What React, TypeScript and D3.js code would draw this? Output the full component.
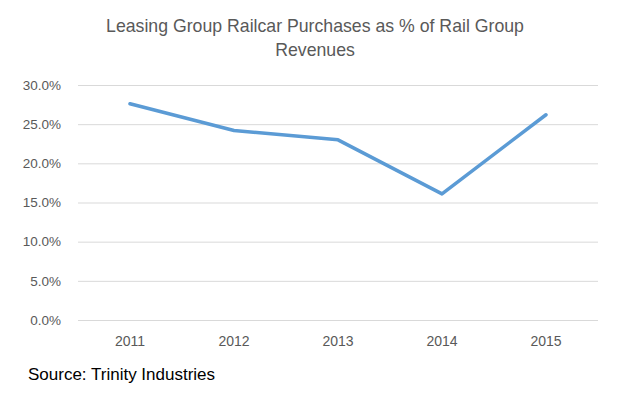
import React, { useEffect, useRef } from 'react';
import * as d3 from 'd3';

const years = ['2011', '2012', '2013', '2014', '2015'];
const purchasePct = [27.6, 24.2, 23.0, 16.1, 26.2];
const yTicks = [0, 5, 10, 15, 20, 25, 30];
const titleLines = ['Leasing Group Railcar Purchases as % of Rail Group', 'Revenues'];
const sourceText = 'Source: Trinity Industries';

const App = () => {
    const ref = useRef<SVGSVGElement>(null);

    useEffect(() => {
        const width = 637;
        const height = 395;
        const left = 78, right = 598, top = 85, bottom = 320;
        const font = '"Liberation Sans", Arial, sans-serif';

        const svg = d3.select(ref.current);
        svg.selectAll('*').remove();
        svg.attr('width', width).attr('height', height);

        svg.append('rect')
            .attr('width', width)
            .attr('height', height)
            .attr('fill', '#fff');

        // title
        svg.append('g')
            .selectAll('text')
            .data(titleLines)
            .enter()
            .append('text')
            .attr('x', 315)
            .attr('y', (d, i) => 32 + i * 23.5)
            .attr('text-anchor', 'middle')
            .attr('font-family', font)
            .attr('font-size', 17.7)
            .attr('fill', '#595959')
            .text(d => d);

        let x = d3.scaleBand()
            .domain(years)
            .range([left, right]);
        let y = d3.scaleLinear()
            .domain([0, 30])
            .range([bottom, top]);

        // gridlines + y labels
        let yAxis = d3.axisLeft(y)
            .tickValues(yTicks)
            .tickSize(-(right - left))
            .tickPadding(17)
            .tickFormat(d => (d as number).toFixed(1) + '%');
        let gy = svg.append('g')
            .attr('transform', `translate(${left},0)`)
            .call(yAxis);
        gy.select('.domain').remove();
        gy.selectAll('.tick line')
            .attr('stroke', '#d9d9d9')
            .attr('stroke-width', 1);
        gy.selectAll('.tick text')
            .attr('font-family', font)
            .attr('font-size', 13.5)
            .attr('fill', '#595959');

        // x labels
        let xAxis = d3.axisBottom(x).tickSize(0).tickPadding(16);
        let gx = svg.append('g')
            .attr('transform', `translate(0,${bottom})`)
            .call(xAxis);
        gx.select('.domain').remove();
        gx.selectAll('.tick text')
            .attr('font-family', font)
            .attr('font-size', 14)
            .attr('fill', '#595959');

        // line
        let line = d3.line<number>()
            .x((d, i) => (x(years[i]) as number) + x.bandwidth() / 2)
            .y(d => y(d));
        svg.append('path')
            .datum(purchasePct)
            .attr('d', line)
            .attr('fill', 'none')
            .attr('stroke', '#5b9bd5')
            .attr('stroke-width', 3.5)
            .attr('stroke-linejoin', 'round')
            .attr('stroke-linecap', 'round');

        svg.append('text')
            .attr('x', 28)
            .attr('y', 380)
            .attr('font-family', font)
            .attr('font-size', 17)
            .attr('fill', '#000')
            .text(sourceText);
    }, []);

    return (
        <div>
            <svg ref={ref} style={{ position: 'absolute', left: 0, top: 0 }} />
        </div>
    );
};

export default App;
